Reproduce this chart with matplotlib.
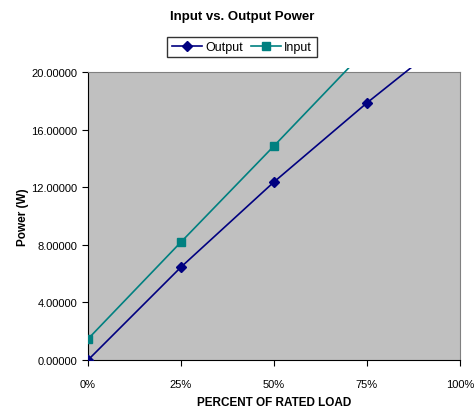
import matplotlib.pyplot as plt
from matplotlib.patches import Rectangle
from matplotlib.ticker import FuncFormatter

plt.rcParams['font.family'] = ['Liberation Sans', 'DejaVu Sans']

# data
load_pct = [0, 25, 50, 75, 100]
output_w = [0.0, 6.45, 12.36, 17.85, 23.0]
input_w = [1.46, 8.19, 14.86, 21.6, 28.3]

fig = plt.figure(figsize=(4.77, 4.10), dpi=100)
ax = fig.add_axes([0.1845, 0.1195, 0.7795, 0.7025])
ax.set_facecolor('#c0c0c0')

l_out, = ax.plot(load_pct, output_w, color='#000080', marker='D', markersize=5,
                 linewidth=1.2, label='Output', zorder=3)
l_in, = ax.plot(load_pct, input_w, color='#008080', marker='s', markersize=6,
                linewidth=1.2, label='Input', zorder=3)

# excel lets the lines poke a little above the plot area
for ln in (l_out, l_in):
    clip = Rectangle((0, 0), 1, 1.015, transform=ax.transAxes)
    ln.set_clip_path(clip)

ax.set_xlim(0, 100)
ax.set_ylim(0, 20)
ax.set_xticks([0, 25, 50, 75, 100])
ax.set_yticks([0, 4, 8, 12, 16, 20])
ax.xaxis.set_major_formatter(FuncFormatter(lambda v, p: f"{v:.0f}%"))
ax.yaxis.set_major_formatter(FuncFormatter(lambda v, p: f"{v:.5f}"))
ax.tick_params(labelsize=8, length=4, width=0.8, direction='out')
ax.tick_params(axis='x', pad=10)

for s in ['top', 'right']:
    ax.spines[s].set_color('#808080')
    ax.spines[s].set_linewidth(0.8)
for s in ['left', 'bottom']:
    ax.spines[s].set_color('black')
    ax.spines[s].set_linewidth(0.8)

ax.set_xlabel('PERCENT OF RATED LOAD', fontsize=8.5, fontweight='bold', labelpad=5)
ax.set_ylabel('Power (W)', fontsize=8.5, fontweight='bold', labelpad=2)

fig.text(0.507, 0.958, 'Input vs. Output Power', ha='center', va='center',
         fontsize=9.5, fontweight='bold')

leg = fig.legend(loc='center', bbox_to_anchor=(0.507, 0.883), ncol=2,
                 fontsize=9, frameon=True, fancybox=False, edgecolor='black',
                 handlelength=2.4, handletextpad=0.3, columnspacing=0.6,
                 borderpad=0.35)
leg.get_frame().set_linewidth(1.0)

fig.savefig('out.png', dpi=100, facecolor='white')
